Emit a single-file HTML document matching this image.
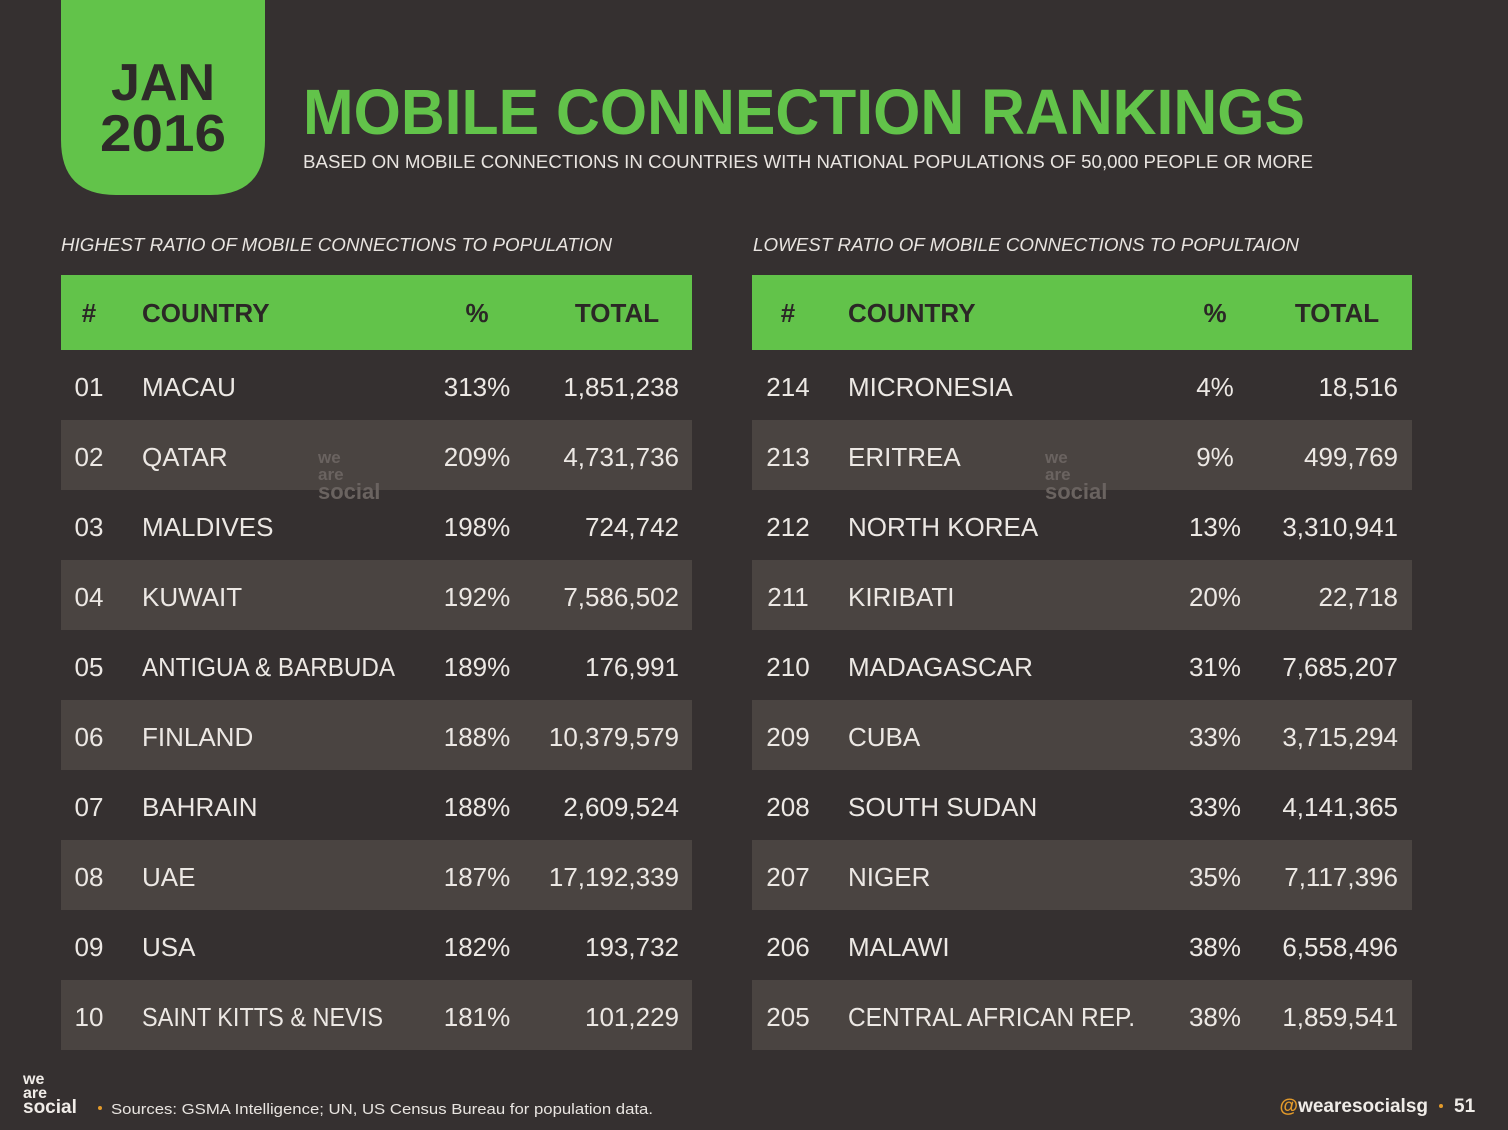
<!DOCTYPE html>
<html><head><meta charset="utf-8"><style>
html,body{margin:0;padding:0;background:#353030;}
svg{display:block;font-family:"Liberation Sans",sans-serif;}
</style></head><body>
<svg width="1508" height="1130" viewBox="0 0 1508 1130" xmlns="http://www.w3.org/2000/svg">
<rect width="1508" height="1130" fill="#353030"/>
<path d="M61 0H265V140Q265 195 210 195H116Q61 195 61 140Z" fill="#62c34a"/>
<text x="163" y="100" text-anchor="middle" font-size="52" font-weight="bold" fill="#2e2a29" textLength="104" lengthAdjust="spacingAndGlyphs">JAN</text>
<text x="163" y="151" text-anchor="middle" font-size="52" font-weight="bold" fill="#2e2a29" textLength="126" lengthAdjust="spacingAndGlyphs">2016</text>
<text x="303" y="134" font-size="64" font-weight="bold" fill="#62c34a" textLength="1002" lengthAdjust="spacingAndGlyphs">MOBILE CONNECTION RANKINGS</text>
<text x="303" y="168" font-size="18" fill="#e8e4e0" textLength="1010" lengthAdjust="spacingAndGlyphs">BASED ON MOBILE CONNECTIONS IN COUNTRIES WITH NATIONAL POPULATIONS OF 50,000 PEOPLE OR MORE</text>
<text x="61" y="251" font-size="18" font-style="italic" fill="#e8e4e0" textLength="551" lengthAdjust="spacingAndGlyphs">HIGHEST RATIO OF MOBILE CONNECTIONS TO POPULATION</text>
<text x="753" y="251" font-size="18" font-style="italic" fill="#e8e4e0" textLength="546" lengthAdjust="spacingAndGlyphs">LOWEST RATIO OF MOBILE CONNECTIONS TO POPULTAION</text>
<rect x="61" y="275" width="631" height="75" fill="#62c34a"/>
<rect x="752" y="275" width="660" height="75" fill="#62c34a"/>
<g font-size="26" font-weight="bold" fill="#2b2726">
<text x="89" y="322" text-anchor="middle">#</text>
<text x="142" y="322">COUNTRY</text>
<text x="477" y="322" text-anchor="middle">%</text>
<text x="617" y="322" text-anchor="middle">TOTAL</text>
<text x="788" y="322" text-anchor="middle">#</text>
<text x="848" y="322">COUNTRY</text>
<text x="1215" y="322" text-anchor="middle">%</text>
<text x="1337" y="322" text-anchor="middle">TOTAL</text>
</g>
<g fill="#4a4441">
<rect x="61" y="420" width="631" height="70"/><rect x="752" y="420" width="660" height="70"/>
<rect x="61" y="560" width="631" height="70"/><rect x="752" y="560" width="660" height="70"/>
<rect x="61" y="700" width="631" height="70"/><rect x="752" y="700" width="660" height="70"/>
<rect x="61" y="840" width="631" height="70"/><rect x="752" y="840" width="660" height="70"/>
<rect x="61" y="980" width="631" height="70"/><rect x="752" y="980" width="660" height="70"/>
</g>
<g font-size="17" font-weight="bold" fill="#6a6360">
<text x="318" y="463">we</text><text x="318" y="480">are</text><text x="318" y="499" font-size="22">social</text>
<text x="1045" y="463">we</text><text x="1045" y="480">are</text><text x="1045" y="499" font-size="22">social</text>
</g>
<g font-size="26" fill="#ece8e4">
<g text-anchor="middle">
<text x="89" y="396">01</text><text x="89" y="466">02</text><text x="89" y="536">03</text><text x="89" y="606">04</text><text x="89" y="676">05</text><text x="89" y="746">06</text><text x="89" y="816">07</text><text x="89" y="886">08</text><text x="89" y="956">09</text><text x="89" y="1026">10</text>
<text x="477" y="396">313%</text><text x="477" y="466">209%</text><text x="477" y="536">198%</text><text x="477" y="606">192%</text><text x="477" y="676">189%</text><text x="477" y="746">188%</text><text x="477" y="816">188%</text><text x="477" y="886">187%</text><text x="477" y="956">182%</text><text x="477" y="1026">181%</text>
<text x="788" y="396">214</text><text x="788" y="466">213</text><text x="788" y="536">212</text><text x="788" y="606">211</text><text x="788" y="676">210</text><text x="788" y="746">209</text><text x="788" y="816">208</text><text x="788" y="886">207</text><text x="788" y="956">206</text><text x="788" y="1026">205</text>
<text x="1215" y="396">4%</text><text x="1215" y="466">9%</text><text x="1215" y="536">13%</text><text x="1215" y="606">20%</text><text x="1215" y="676">31%</text><text x="1215" y="746">33%</text><text x="1215" y="816">33%</text><text x="1215" y="886">35%</text><text x="1215" y="956">38%</text><text x="1215" y="1026">38%</text>
</g>
<text x="142" y="396">MACAU</text><text x="142" y="466">QATAR</text><text x="142" y="536">MALDIVES</text><text x="142" y="606">KUWAIT</text><text x="142" y="676" textLength="253" lengthAdjust="spacingAndGlyphs">ANTIGUA &amp; BARBUDA</text><text x="142" y="746">FINLAND</text><text x="142" y="816">BAHRAIN</text><text x="142" y="886">UAE</text><text x="142" y="956">USA</text><text x="142" y="1026" textLength="241" lengthAdjust="spacingAndGlyphs">SAINT KITTS &amp; NEVIS</text>
<text x="848" y="396">MICRONESIA</text><text x="848" y="466">ERITREA</text><text x="848" y="536">NORTH KOREA</text><text x="848" y="606">KIRIBATI</text><text x="848" y="676">MADAGASCAR</text><text x="848" y="746">CUBA</text><text x="848" y="816">SOUTH SUDAN</text><text x="848" y="886">NIGER</text><text x="848" y="956">MALAWI</text><text x="848" y="1026" textLength="287" lengthAdjust="spacingAndGlyphs">CENTRAL AFRICAN REP.</text>
<g text-anchor="end">
<text x="679" y="396">1,851,238</text><text x="679" y="466">4,731,736</text><text x="679" y="536">724,742</text><text x="679" y="606">7,586,502</text><text x="679" y="676">176,991</text><text x="679" y="746">10,379,579</text><text x="679" y="816">2,609,524</text><text x="679" y="886">17,192,339</text><text x="679" y="956">193,732</text><text x="679" y="1026">101,229</text>
<text x="1398" y="396">18,516</text><text x="1398" y="466">499,769</text><text x="1398" y="536">3,310,941</text><text x="1398" y="606">22,718</text><text x="1398" y="676">7,685,207</text><text x="1398" y="746">3,715,294</text><text x="1398" y="816">4,141,365</text><text x="1398" y="886">7,117,396</text><text x="1398" y="956">6,558,496</text><text x="1398" y="1026">1,859,541</text>
</g>
</g>
<g font-weight="bold" fill="#f0ece8">
<text x="23" y="1084" font-size="16">we</text><text x="23" y="1098" font-size="16">are</text><text x="23" y="1113" font-size="19">social</text>
</g>
<circle cx="100" cy="1108" r="2" fill="#e39a2a"/>
<text x="111" y="1114" font-size="15" fill="#e8e4e0" textLength="542" lengthAdjust="spacingAndGlyphs">Sources: GSMA Intelligence; UN, US Census Bureau for population data.</text>
<text x="1428" y="1112" font-size="19" font-weight="bold" fill="#e39a2a" text-anchor="end">@<tspan fill="#f0ece8">wearesocialsg</tspan></text>
<circle cx="1441" cy="1106" r="2" fill="#e39a2a"/>
<text x="1454" y="1112" font-size="19" font-weight="bold" fill="#f0ece8">51</text>
</svg>
</body></html>
